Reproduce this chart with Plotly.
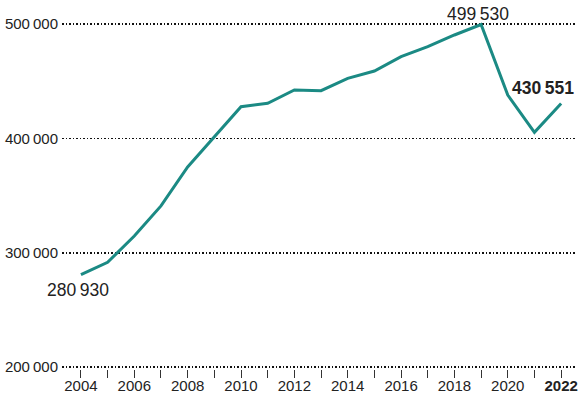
import plotly.graph_objects as go

years = list(range(2004, 2023))
values = [280930, 291700, 314700, 341000, 375000, 401000, 427700, 430700,
          442300, 441700, 452500, 458900, 471400, 480200, 490400, 499530,
          437900, 405300, 430551]

y_ticks = [200000, 300000, 400000, 500000]
y_labels = ["200\u2009000", "300\u2009000", "400\u2009000", "500\u2009000"]
x_tickvals = years
x_ticktext = [("<b>%d</b>" % y if y == 2022 else str(y)) if y % 2 == 0 else "" for y in years]

FONT = "Liberation Sans, Arial, sans-serif"
TEAL = "#1b8a84"
INK = "#222222"

fig = go.Figure()
fig.add_trace(go.Scatter(x=years, y=values, mode="lines",
                         line=dict(color=TEAL, width=3), hoverinfo="skip"))

def fmt(v):
    s = str(v)
    return s[:-3] + "\u2009" + s[-3:]

fig.add_annotation(x=years[0], y=values[0], text=fmt(values[0]), showarrow=False,
                   xanchor="center", yanchor="middle", xshift=-3, yshift=-15,
                   font=dict(size=17.5, color=INK, family=FONT))
i_max = values.index(max(values))
fig.add_annotation(x=years[i_max], y=values[i_max], text=fmt(values[i_max]), showarrow=False,
                   xanchor="center", yanchor="middle", xshift=-3, yshift=11,
                   font=dict(size=17.5, color=INK, family=FONT))
fig.add_annotation(x=years[-1], y=values[-1], text="<b>" + fmt(values[-1]) + "</b>", showarrow=False,
                   xanchor="center", yanchor="middle", xshift=-18, yshift=15,
                   font=dict(size=17.5, color=INK, family=FONT))

fig.update_layout(
    width=582, height=396,
    margin=dict(l=62, r=7, t=10, b=27),
    paper_bgcolor="white", plot_bgcolor="white",
    showlegend=False,
    font=dict(family=FONT, size=15, color=INK),
    xaxis=dict(range=[2003.29, 2022.52], tickvals=x_tickvals, ticktext=x_ticktext,
               ticks="outside", ticklen=8, tickwidth=1, tickcolor="#333333",
               showgrid=False, zeroline=False, showline=False, automargin=False,
               ticklabelstandoff=-5,
               tickfont=dict(size=15, color=INK, family=FONT), fixedrange=True),
    yaxis=dict(range=[198430, 512240], tickvals=y_ticks, ticktext=y_labels,
               showgrid=True, gridcolor="#111111", gridwidth=1.5, griddash="1.5px,2px",
               zeroline=False, showline=False, ticks="", ticklabelstandoff=3, automargin=False,
               tickfont=dict(size=15, color=INK, family=FONT), fixedrange=True),
)

fig.write_html("out.html", config={"displayModeBar": False, "staticPlot": True},
               post_script="document.body.style.margin='0px';document.body.style.overflow='hidden';")
